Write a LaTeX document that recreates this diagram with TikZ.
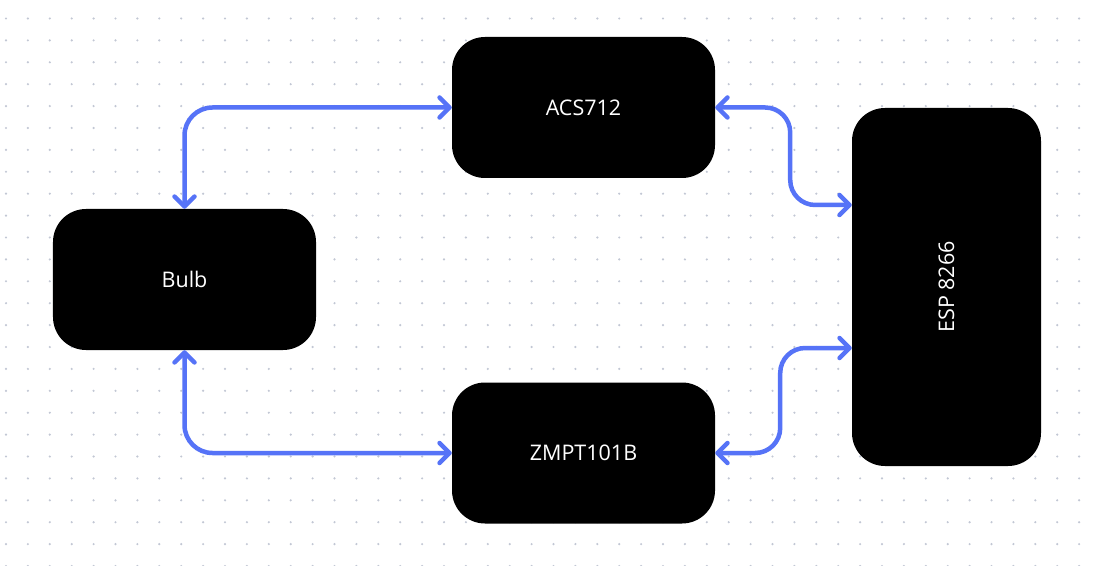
\documentclass[tikz,border=0pt]{standalone}
\usepackage{fontspec}
\setmainfont{Open Sans}
\usepackage{tikz}
\usetikzlibrary{arrows.meta,positioning}
\definecolor{linkblue}{HTML}{5673F7}
\definecolor{dotgray}{HTML}{C2C7D4}

\begin{document}
\begin{tikzpicture}[x=1bp,y=-1bp,on grid,
    block/.style={fill=black,text=white,rounded corners=33bp,minimum width=263bp,
      minimum height=141bp,inner sep=0pt,font=\fontsize{21.5bp}{26bp}\selectfont},
    link/.style={draw=linkblue,line width=4.5bp,rounded corners=28bp,
      {Straight Barb[length=10bp,width=20bp,line cap=round,line join=round]}-{Straight Barb[length=10bp,width=20bp,line cap=round,line join=round]}}]
   \useasboundingbox[fill=white] (0,0) rectangle (1098,566);
   % dotted background
   \foreach \i in {0,...,49}
     \foreach \j in {0,...,25}
       \fill[dotgray] (6+21.9*\i,18.5+21.9*\j) circle (1.2bp);

   \node[block] (bulb) at (184.5,279.5) {Bulb};
   \node[block] (acs) [above right=172bp and 399bp of bulb] {ACS712};
   \node[block] (zmpt) [below right=173.5bp and 399bp of bulb] {ZMPT101B};
   \node[block, minimum width=189bp, minimum height=358bp] (esp) at (946.5,287)
     {\rotatebox{90}{ESP 8266}};

   \draw[link] (bulb.north) |- (acs.west);
   \draw[link] (bulb.south) |- (zmpt.west);
   \draw[link,rounded corners=25bp] (acs.east) -- ++(75,0) |- ([yshift=82bp]esp.west);
   \draw[link,rounded corners=25bp] (zmpt.east) -- ++(65,0) |- ([yshift=-61bp]esp.west);
\end{tikzpicture}
\end{document}
